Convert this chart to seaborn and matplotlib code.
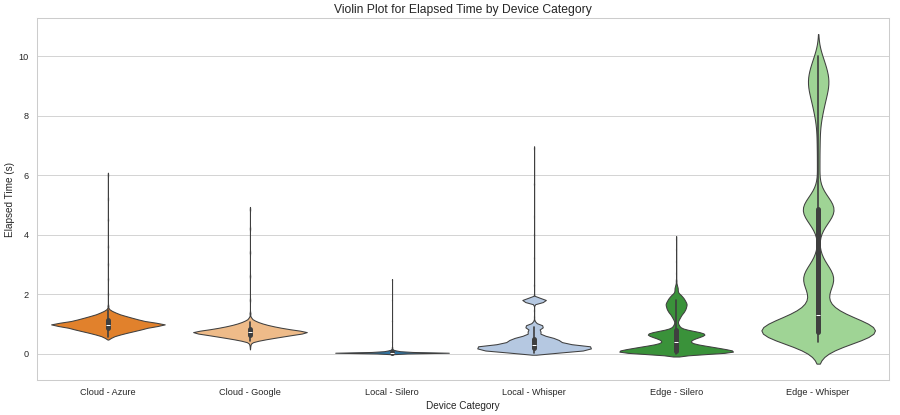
import numpy as np
import pandas as pd
import matplotlib
matplotlib.use("Agg")
import matplotlib.pyplot as plt
import seaborn as sns

categories = ["Cloud - Azure", "Cloud - Google", "Local - Silero",
              "Local - Whisper", "Edge - Silero", "Edge - Whisper"]

# elapsed times (s) and how many runs landed on each
azure_times = [0.55, 0.62, 0.67, 0.72, 0.77, 0.82, 0.87, 0.92, 0.97, 1.02, 1.07, 1.12,
               1.17, 1.22, 1.27, 1.32, 1.37, 1.42, 1.47, 1.60, 2.00, 2.50, 3.00, 3.60,
               4.50, 5.20, 6.00]
azure_counts = [15, 25, 35, 50, 65, 80, 90, 105, 150, 120, 90, 75,
                65, 50, 40, 25, 20, 10, 5, 2, 1, 1, 1, 1,
                1, 1, 1]

google_times = [0.22, 0.32, 0.42, 0.47, 0.52, 0.57, 0.62, 0.67, 0.72, 0.77, 0.82,
                0.87, 0.92, 0.97, 1.02, 1.07, 1.12, 1.20, 1.35, 1.80, 2.60, 3.40,
                4.20, 4.85]
google_counts = [1, 3, 15, 30, 50, 70, 90, 110, 140, 105, 85,
                 65, 50, 35, 25, 15, 10, 5, 2, 1, 1, 1,
                 1, 1]

local_silero_times = [0.00, 0.01, 0.02, 0.03, 0.04, 0.05, 0.06, 0.07, 0.08,
                      0.09, 0.10, 0.12, 0.15, 0.20, 0.40, 1.10, 1.80, 2.48]
local_silero_counts = [10, 50, 200, 225, 100, 40, 25, 20, 25,
                       20, 15, 10, 5, 3, 1, 1, 1, 1]

local_whisper_times = [0.03, 0.08, 0.13, 0.18, 0.23, 0.28, 0.33, 0.38, 0.43, 0.48, 0.53,
                       0.58, 0.63, 0.68, 0.73, 0.78, 0.83, 0.88, 0.93, 0.98, 1.03, 1.10,
                       1.25, 1.45, 1.72, 1.77, 1.82, 1.87, 2.30, 3.20, 4.00, 4.60,
                       5.70, 6.90]
local_whisper_counts = [80, 152, 172, 184, 200, 152, 100, 88, 84, 76, 62,
                        44, 22, 18, 22, 20, 14, 30, 36, 16, 6, 3,
                        1, 1, 28, 40, 40, 20, 1, 1, 1, 1,
                        1, 1]

edge_silero_times = [0.00, 0.05, 0.10, 0.15, 0.20, 0.25, 0.30, 0.35, 0.40, 0.45,
                     0.50, 0.55, 0.60, 0.65, 0.70, 0.75, 0.80, 0.85, 0.90, 0.95,
                     1.00, 1.05, 1.10, 1.15, 1.20, 1.25, 1.30, 1.35, 1.40, 1.45,
                     1.50, 1.55, 1.60, 1.65, 1.70, 1.75, 1.80, 1.85, 1.90, 1.95,
                     2.00, 2.10, 2.20, 2.30, 2.45, 2.70, 3.10, 3.50, 3.85]
edge_silero_counts = [120, 160, 144, 120, 100, 80, 52, 36, 32, 36,
                      44, 56, 68, 76, 68, 48, 24, 12, 8, 8,
                      4, 4, 4, 8, 8, 12, 12, 16, 20, 20,
                      24, 24, 24, 28, 24, 24, 20, 20, 16, 12,
                      12, 8, 8, 4, 2, 1, 1, 1, 1]

edge_whisper_times = [0.40, 0.50, 0.60, 0.70, 0.80, 0.90, 1.00, 1.10, 1.20, 1.30,
                      1.50, 1.70, 2.00, 2.30, 2.50, 2.70, 2.90, 3.30,
                      4.40, 4.70, 4.90, 5.10, 5.50,
                      6.30, 7.00, 7.60, 8.10, 8.50, 8.90, 9.20, 9.50, 9.80, 10.00]
edge_whisper_counts = [2, 7, 12, 12, 10, 8, 6, 4, 3, 2,
                       2, 2, 2, 4, 5, 5, 2, 1,
                       3, 5, 6, 4, 1,
                       1, 1, 1, 2, 3, 4, 4, 3, 2, 1]

times = [azure_times, google_times, local_silero_times,
         local_whisper_times, edge_silero_times, edge_whisper_times]
counts = [azure_counts, google_counts, local_silero_counts,
          local_whisper_counts, edge_silero_counts, edge_whisper_counts]

frames = []
for cat, t, c in zip(categories, times, counts):
    frames.append(pd.DataFrame({"Device Category": cat,
                                "Elapsed Time (s)": np.repeat(t, c)}))
df = pd.concat(frames, ignore_index=True)

# kernel width (s) per group, tab20 colours per group
kde_bw = [0.04, 0.04, 0.012, 0.035, 0.05, 0.37]
colors = ["#ff7f0e", "#ffbb78", "#1f77b4", "#aec7e8", "#2ca02c", "#98df8a"]

sns.set_theme(style="whitegrid")
plt.rcParams["font.family"] = ["Liberation Sans", "DejaVu Sans"]

fig, ax = plt.subplots(figsize=(15, 6.92), dpi=60)
for cat, col, bw in zip(categories, colors, kde_bw):
    sub = df[df["Device Category"] == cat]
    sns.violinplot(data=sub, x="Device Category", y="Elapsed Time (s)", order=categories,
                   color=col, bw_method=bw / sub["Elapsed Time (s)"].std(),
                   density_norm="width", linecolor="#3f3f3f",
                   inner_kws=dict(box_width=6, whis_width=2), ax=ax)

ax.set_title("Violin Plot for Elapsed Time by Device Category", fontsize=14.5)
ax.set_xlabel("Device Category")
ax.set_ylabel("Elapsed Time (s)")
plt.subplots_adjust(left=0.041, right=0.988, top=0.957, bottom=0.084)
plt.savefig("out.png")
plt.close()
